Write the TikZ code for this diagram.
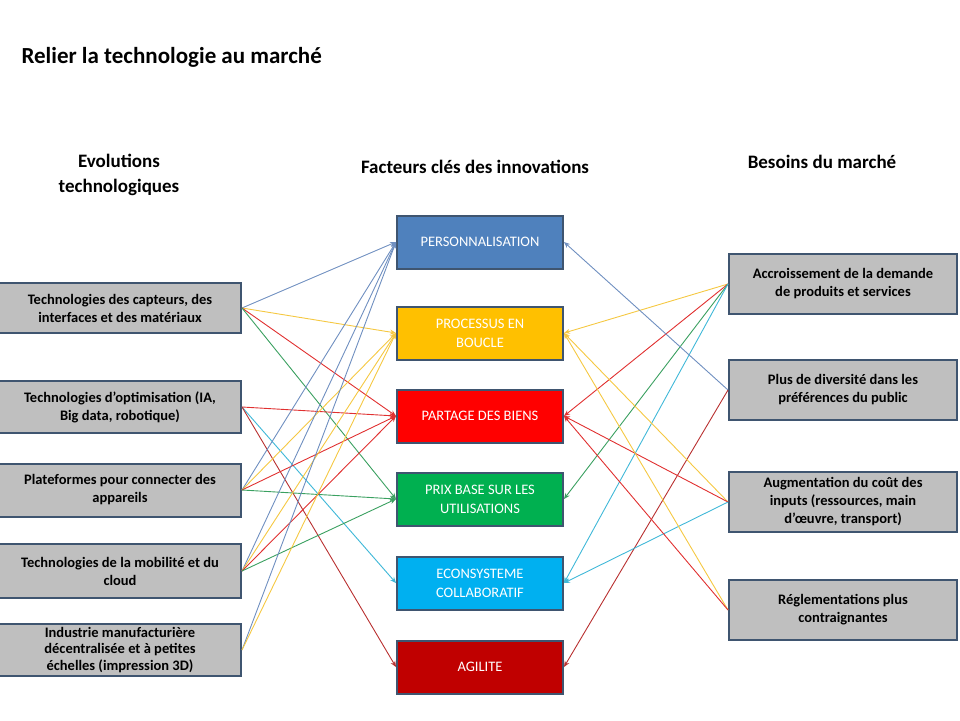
\documentclass[tikz,border=0pt]{standalone}
\usepackage{fontspec}
\setmainfont{Carlito}
\usetikzlibrary{arrows.meta}
\definecolor{bd}{HTML}{3F5570}
\definecolor{cb}{HTML}{4F81BD}
\definecolor{cy}{HTML}{FFC000}
\definecolor{cr}{HTML}{FF0000}
\definecolor{cg}{HTML}{00B050}
\definecolor{cl}{HTML}{00B0F0}
\definecolor{cd}{HTML}{C00000}
\definecolor{kb}{HTML}{6F8FC0}
\definecolor{ky}{HTML}{F5C842}
\definecolor{kr}{HTML}{E03030}
\definecolor{kg}{HTML}{3AA060}
\definecolor{kl}{HTML}{40B8D8}
\definecolor{kd}{HTML}{B83030}
\definecolor{gf}{HTML}{BFBFBF}
\begin{document}
\begin{tikzpicture}[x=1pt,y=-1pt,
 gbox/.style={draw=bd,line width=2pt,fill=gf,align=center,font=\fontsize{14.5}{18}\selectfont\bfseries,inner sep=1pt},
 pbox/.style={draw=bd,line width=2pt,minimum width=166pt,minimum height=53pt,align=center,text=white,font=\fontsize{14.5}{19}\selectfont},
 hd/.style={font=\fontsize{19}{25}\selectfont\bfseries,align=center},
 arr/.style={-{Stealth[length=6pt,width=5pt]},line width=0.9pt}]
\useasboundingbox (0,0) rectangle (960,720);
\node[anchor=west,font=\fontsize{23}{27}\selectfont\bfseries] (t) at (18,57) {Relier la technologie au marché};
\node[hd] (h1) at (119,175) {Evolutions\\technologiques};
\node[hd] (h2) at (475,167) {Facteurs clés des innovations};
\node[hd] (h3) at (822,162) {Besoins du marché};
\node[pbox,fill=cb] (p1) at (480,242) {PERSONNALISATION};
\node[pbox,fill=cy] (p2) at (480,333) {PROCESSUS EN\\BOUCLE};
\node[pbox,fill=cr] (p3) at (480,416) {PARTAGE DES BIENS};
\node[pbox,fill=cg] (p4) at (480,499) {PRIX BASE SUR  LES\\UTILISATIONS};
\node[pbox,fill=cl] (p5) at (480,583) {ECONSYSTEME\\COLLABORATIF};
\node[pbox,fill=cd] (p6) at (480,667) {AGILITE};
\node[gbox,minimum width=242pt,minimum height=50pt] (l1) at (120,308) {Technologies des capteurs, des\\interfaces et des matériaux};
\node[gbox,minimum width=242pt,minimum height=52pt] (l2) at (120,407) {Technologies d’optimisation (IA,\\Big data, robotique)};
\node[gbox,minimum width=242pt,minimum height=53pt] (l3) at (120,490) {Plateformes pour connecter des\\appareils};
\node[gbox,minimum width=242pt,minimum height=54pt] (l4) at (120,571) {Technologies de la mobilité et du\\cloud};
\node[gbox,minimum width=242pt,minimum height=52pt,font=\fontsize{14.5}{16.5}\selectfont\bfseries] (l5) at (120,650) {Industrie manufacturière\\décentralisée et à petites\\échelles (impression 3D)};
\node[gbox,minimum width=228pt,minimum height=60pt] (r1) at (843,284) {Accroissement de la demande\\de produits et services};
\node[gbox,minimum width=228pt,minimum height=60pt] (r2) at (843,390) {Plus de diversité dans les\\préférences du public};
\node[gbox,minimum width=228pt,minimum height=60pt] (r3) at (843,502) {Augmentation du coût des\\inputs (ressources, main\\d’œuvre, transport)};
\node[gbox,minimum width=228pt,minimum height=60pt] (r4) at (843,610) {Réglementations plus\\contraignantes};
\foreach \s/\t/\c in {l1/p1/kb,l1/p2/ky,l1/p3/kr,l1/p4/kg,l2/p3/kr,l2/p5/kl,l2/p6/kd,
 l3/p1/kb,l3/p2/ky,l3/p3/kr,l3/p4/kg,l4/p1/kb,l4/p2/ky,l4/p3/kr,l4/p4/kg,l5/p1/kb,l5/p2/ky}
 \draw[arr,draw=\c] (\s.east) -- (\t.west);
\foreach \s/\t/\c in {r1/p2/ky,r1/p3/kr,r1/p4/kg,r1/p5/kl,r2/p1/kb,r2/p6/kd,
 r3/p2/ky,r3/p3/kr,r3/p5/kl,r4/p2/ky,r4/p3/kr}
 \draw[arr,draw=\c] (\s.west) -- (\t.east);
\end{tikzpicture}
\end{document}
